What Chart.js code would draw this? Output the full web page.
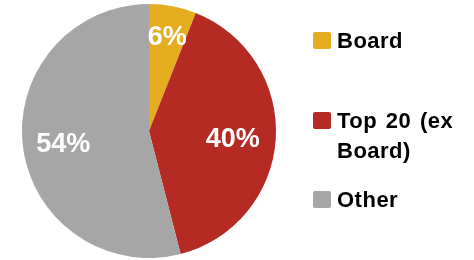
<!DOCTYPE html>
<html>
<head>
<meta charset="utf-8">
<script src="https://cdn.jsdelivr.net/npm/chart.js@4/dist/chart.umd.min.js"></script>
<style>
  html, body { margin: 0; padding: 0; background: #fff; }
  #wrap { position: relative; width: 474px; height: 260px; }
  canvas { position: absolute; left: 0; top: 0; }
  .leg { position: absolute; font-family: "Liberation Sans", Arial, sans-serif; font-weight: bold; font-size: 22px; color: #000; line-height: 30px; letter-spacing: 0.5px; word-spacing: 2px; white-space: nowrap; }
  .sw { position: absolute; width: 18px; height: 17px; border-radius: 2px; }
</style>
</head>
<body>
<div id="wrap">
  <canvas id="c" width="474" height="260"></canvas>
</div>
<script>
const categories = ["Board", "Top 20 (ex Board)", "Other"];
const legendLines = [["Board"], ["Top 20 (ex", "Board)"], ["Other"]];
const values = [6, 40, 54];
const colors = ["#E6AC1F", "#B52B24", "#A6A6A6"];

const legendTops = [26, 106, 185];
const wrap = document.getElementById('wrap');
categories.forEach((cat, i) => {
  const sw = document.createElement('div');
  sw.className = 'sw';
  sw.style.background = colors[i];
  sw.style.left = '313px';
  sw.style.top = (legendTops[i] + 6) + 'px';
  wrap.appendChild(sw);
  const t = document.createElement('div');
  t.className = 'leg';
  t.style.left = '337px';
  t.style.top = legendTops[i] + 'px';
  t.innerHTML = legendLines[i].join('<br>');
  wrap.appendChild(t);
});

const labelRadius = [0.77, 0.66, 0.68];
const labelPlugin = {
  id: 'pctLabels',
  afterDatasetsDraw(chart) {
    const ctx = chart.ctx;
    const meta = chart.getDatasetMeta(0);
    ctx.save();
    ctx.fillStyle = '#fff';
    ctx.font = 'bold 27px "Liberation Sans", Arial, sans-serif';
    ctx.textAlign = 'center';
    ctx.textBaseline = 'middle';
    meta.data.forEach((arc, i) => {
      const p = arc.getProps(['x', 'y', 'startAngle', 'endAngle', 'outerRadius'], true);
      const mid = (p.startAngle + p.endAngle) / 2;
      const r = p.outerRadius * labelRadius[i];
      ctx.fillText(values[i] + '%', p.x + Math.cos(mid) * r, p.y + Math.sin(mid) * r + 3);
    });
    ctx.restore();
  }
};

new Chart(document.getElementById('c'), {
  type: 'pie',
  data: {
    labels: categories,
    datasets: [{ data: values, backgroundColor: colors, borderWidth: 0 }]
  },
  options: {
    responsive: false,
    animation: false,
    layout: { padding: { left: 22, top: 4, right: 198, bottom: 2 } },
    plugins: { legend: { display: false }, tooltip: { enabled: false } }
  },
  plugins: [labelPlugin]
});
</script>
</body>
</html>
